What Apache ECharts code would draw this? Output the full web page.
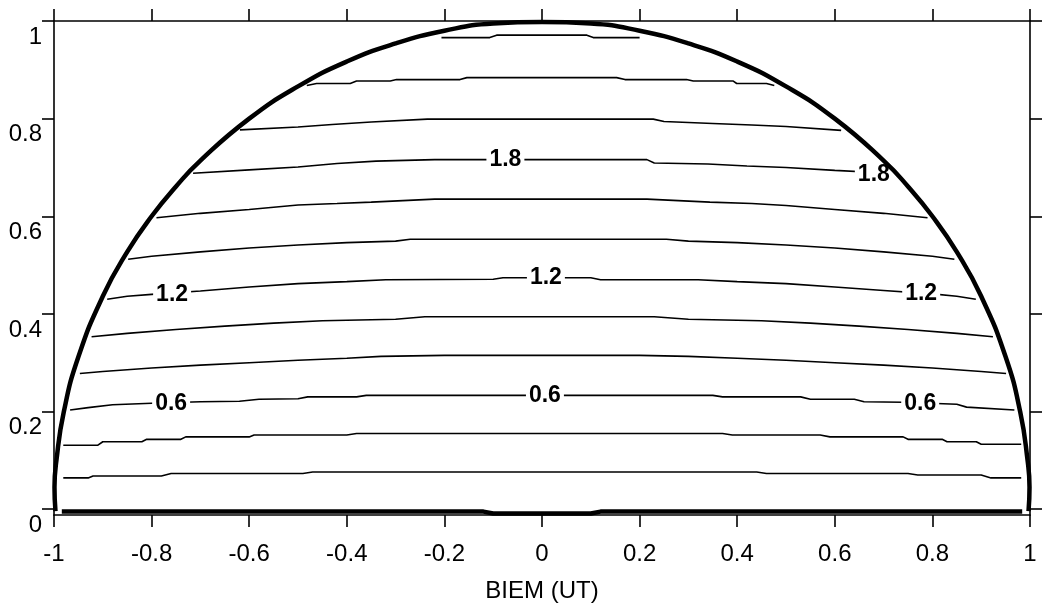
<!DOCTYPE html>
<html lang="en">
<head>
<meta charset="UTF-8">
<title>BIEM (UT)</title>
<script src="https://cdn.jsdelivr.net/npm/echarts@6.0.0/dist/echarts.min.js"></script>
<style>
  html, body { margin: 0; padding: 0; background: #fff; }
  #chart { width: 1046px; height: 608px; }
</style>
</head>
<body>
<div id="chart"></div>
<script>
  // tick values
  var yTicks = [0, 0.2, 0.4, 0.6, 0.8, 1];

  // thick boundary: half circle and its base
  var boundaryArc = [
    [-0.997, -0.004], [-0.999, 0.045], [-0.995, 0.1], [-0.98, 0.199], [-0.95, 0.312],
    [-0.9, 0.436], [-0.85, 0.527], [-0.8, 0.6], [-0.75, 0.661], [-0.7, 0.714],
    [-0.6, 0.8], [-0.5, 0.866], [-0.4, 0.917], [-0.3, 0.954], [-0.2, 0.98],
    [-0.1, 0.995], [0, 0.998], [0.1, 0.995], [0.2, 0.98], [0.3, 0.954],
    [0.4, 0.917], [0.5, 0.866], [0.6, 0.8], [0.7, 0.714], [0.75, 0.661],
    [0.8, 0.6], [0.85, 0.527], [0.9, 0.436], [0.95, 0.312], [0.98, 0.199],
    [0.995, 0.1], [0.999, 0.045], [0.997, -0.004]
  ];
  var contour00 = [[-0.984, -0.005], [-0.12, -0.005], [-0.1, -0.009], [0.1, -0.009], [0.12, -0.005], [0.984, -0.005]];

  // contour lines, one array per level
  var contour02 = [[-0.981, 0.064], [-0.93, 0.064], [-0.92, 0.068], [-0.78, 0.068], [-0.76, 0.073], [-0.49, 0.073],
    [-0.47, 0.076], [0.44, 0.076], [0.46, 0.073], [0.75, 0.073], [0.77, 0.07], [0.9, 0.07], [0.92, 0.064], [0.982, 0.064]];
  var contour04 = [[-0.981, 0.131], [-0.91, 0.131], [-0.9, 0.138], [-0.82, 0.138], [-0.81, 0.143], [-0.74, 0.143],
    [-0.73, 0.148], [-0.6, 0.148], [-0.59, 0.152], [-0.4, 0.152], [-0.38, 0.155], [0.37, 0.155], [0.39, 0.152],
    [0.57, 0.152], [0.59, 0.148], [0.74, 0.148], [0.75, 0.143], [0.82, 0.143], [0.83, 0.138], [0.89, 0.138],
    [0.9, 0.133], [0.982, 0.133]];
  var contour06 = [[-0.967, 0.203], [-0.93, 0.208], [-0.88, 0.214], [-0.8, 0.217], [-0.7, 0.22], [-0.62, 0.221],
    [-0.58, 0.225], [-0.5, 0.226], [-0.48, 0.23], [-0.38, 0.23], [-0.36, 0.233], [0.35, 0.233], [0.37, 0.23],
    [0.53, 0.23], [0.55, 0.225], [0.64, 0.225], [0.66, 0.22], [0.74, 0.219], [0.85, 0.215], [0.87, 0.209], [0.968, 0.203]];
  var contour08 = [[-0.947, 0.278], [-0.9, 0.282], [-0.8, 0.289], [-0.7, 0.295], [-0.6, 0.3], [-0.5, 0.305],
    [-0.4, 0.309], [-0.33, 0.313], [-0.2, 0.315], [0.2, 0.315], [0.3, 0.313], [0.4, 0.309], [0.5, 0.305],
    [0.6, 0.3], [0.7, 0.295], [0.8, 0.289], [0.9, 0.282], [0.951, 0.278]];
  var contour10 = [[-0.923, 0.353], [-0.85, 0.36], [-0.75, 0.368], [-0.65, 0.375], [-0.55, 0.381], [-0.45, 0.386],
    [-0.3, 0.389], [-0.24, 0.394], [0.23, 0.394], [0.3, 0.389], [0.45, 0.386], [0.55, 0.381], [0.65, 0.375],
    [0.75, 0.368], [0.85, 0.36], [0.924, 0.353]];
  var contour12 = [[-0.891, 0.43], [-0.85, 0.436], [-0.8, 0.44], [-0.7, 0.447], [-0.6, 0.455], [-0.5, 0.462],
    [-0.4, 0.466], [-0.32, 0.47], [-0.1, 0.471], [-0.08, 0.474], [0.1, 0.474], [0.12, 0.47], [0.32, 0.47],
    [0.4, 0.466], [0.5, 0.462], [0.6, 0.455], [0.7, 0.448], [0.8, 0.441], [0.85, 0.436], [0.889, 0.43]];
  var contour14 = [[-0.848, 0.512], [-0.8, 0.518], [-0.7, 0.527], [-0.6, 0.535], [-0.5, 0.541], [-0.4, 0.546],
    [-0.3, 0.549], [-0.27, 0.553], [0.255, 0.553], [0.3, 0.549], [0.4, 0.546], [0.5, 0.541], [0.6, 0.535],
    [0.7, 0.527], [0.8, 0.518], [0.845, 0.512]];
  var contour16 = [[-0.79, 0.597], [-0.7, 0.606], [-0.6, 0.614], [-0.5, 0.623], [-0.42, 0.626], [-0.35, 0.629],
    [-0.22, 0.635], [0.215, 0.635], [0.344, 0.629], [0.43, 0.626], [0.5, 0.622], [0.6, 0.614], [0.7, 0.606], [0.79, 0.597]];
  var contour18 = [[-0.715, 0.688], [-0.6, 0.695], [-0.5, 0.701], [-0.42, 0.708], [-0.34, 0.713], [-0.22, 0.716],
    [0.215, 0.716], [0.23, 0.709], [0.34, 0.707], [0.42, 0.703], [0.5, 0.7], [0.6, 0.694], [0.714, 0.688]];
  var contour20 = [[-0.619, 0.777], [-0.5, 0.783], [-0.43, 0.788], [-0.35, 0.793], [-0.235, 0.799], [0.228, 0.799],
    [0.25, 0.794], [0.35, 0.79], [0.43, 0.787], [0.5, 0.784], [0.613, 0.776]];
  var contour22 = [[-0.482, 0.868], [-0.462, 0.872], [-0.393, 0.872], [-0.38, 0.877], [-0.311, 0.877], [-0.298, 0.88],
    [-0.168, 0.88], [-0.154, 0.884], [0.153, 0.884], [0.17, 0.88], [0.296, 0.88], [0.31, 0.877], [0.392, 0.877],
    [0.399, 0.872], [0.46, 0.872], [0.476, 0.868]];
  var contour24 = [[-0.206, 0.966], [-0.107, 0.966], [-0.093, 0.971], [0.092, 0.971], [0.105, 0.966], [0.2, 0.966]];

  // contour labels: x, y, text
  var contourLabels = [
    [-0.76, 0.217, '0.6'], [0.006, 0.233, '0.6'], [0.775, 0.217, '0.6'],
    [-0.758, 0.44, '1.2'], [0.008, 0.474, '1.2'], [0.777, 0.442, '1.2'],
    [-0.075, 0.716, '1.8'], [0.68, 0.686, '1.8']
  ];

  var thinLines = [contour02, contour04, contour06, contour08, contour10, contour12,
    contour14, contour16, contour18, contour20, contour22, contour24];

  var fontFamily = '"Liberation Sans", Arial, Helvetica, sans-serif';

  var series = thinLines.map(function (pts) {
    return {
      type: 'line', data: pts, showSymbol: false, silent: true, z: 2,
      lineStyle: { color: '#000', width: 1.6 }
    };
  });
  series.push({
    type: 'scatter', data: contourLabels, symbolSize: 0, silent: true, z: 3,
    itemStyle: { color: '#000', opacity: 1 },
    label: {
      show: true, position: [0, 0], align: 'center', verticalAlign: 'middle',
      formatter: function (p) { return p.value[2]; },
      color: '#000', opacity: 1, fontSize: 23, fontWeight: 'bold', fontFamily: fontFamily,
      backgroundColor: '#fff', padding: [0, 3]
    }
  });
  series.push({
    type: 'line', data: contour00, showSymbol: false, silent: true, z: 4,
    lineStyle: { color: '#000', width: 4.5 }
  });
  series.push({
    type: 'line', data: boundaryArc, showSymbol: false, silent: true, smooth: true, z: 5,
    lineStyle: { color: '#000', width: 4.5 }
  });

  var chart = echarts.init(document.getElementById('chart'));

  var axisCommon = {
    type: 'value', min: -1, max: 1, interval: 0.2,
    axisLine: { show: true, onZero: false, lineStyle: { color: '#000', width: 1.6 } },
    axisTick: { show: true, inside: false, length: 12, lineStyle: { color: '#000', width: 1.6 } },
    splitLine: { show: false }
  };

  var option = {
    animation: false,
    backgroundColor: '#fff',
    grid: { left: 54, right: 16, top: 21, bottom: 93, containLabel: false },
    xAxis: [
      Object.assign({}, axisCommon, {
        position: 'bottom',
        name: 'BIEM (UT)', nameLocation: 'middle', nameGap: 64,
        nameTextStyle: { color: '#000', fontSize: 24, fontFamily: fontFamily },
        axisLabel: { color: '#000', fontSize: 24, fontFamily: fontFamily, margin: 27 }
      }),
      Object.assign({}, axisCommon, {
        position: 'top',
        axisLabel: { show: false }
      })
    ],
    yAxis: [
      {
        type: 'value', min: -0.012, max: 1, position: 'left',
        axisLine: { show: true, onZero: false, lineStyle: { color: '#000', width: 1.6 } },
        axisTick: { show: true, inside: false, length: 12, customValues: yTicks, lineStyle: { color: '#000', width: 1.6 } },
        axisLabel: {
          customValues: yTicks, color: '#000', fontSize: 24, fontFamily: fontFamily,
          margin: 12, verticalAlign: 'top', padding: [4, 0, 0, 0]
        },
        splitLine: { show: false }
      },
      {
        type: 'value', min: -0.012, max: 1, position: 'right',
        axisLine: { show: true, onZero: false, lineStyle: { color: '#000', width: 1.6 } },
        axisTick: { show: true, inside: false, length: 12, customValues: yTicks, lineStyle: { color: '#000', width: 1.6 } },
        axisLabel: { show: false },
        splitLine: { show: false }
      }
    ],
    series: series
  };

  chart.setOption(option);
</script>
</body>
</html>
